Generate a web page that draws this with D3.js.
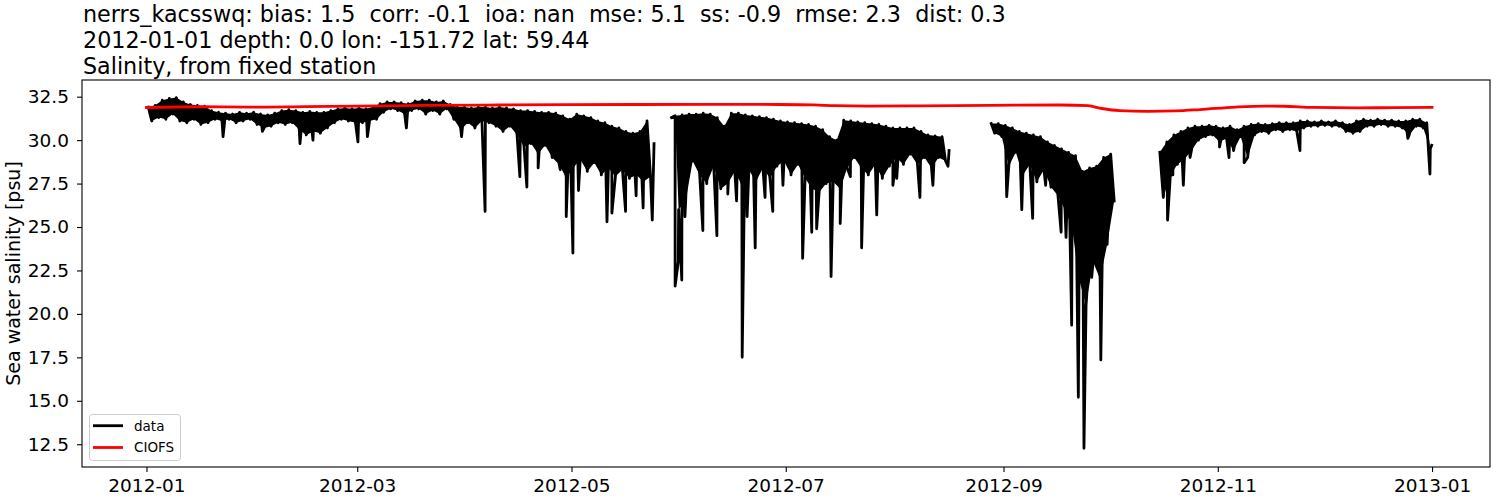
<!DOCTYPE html>
<html><head><meta charset="utf-8">
<script src="https://cdn.jsdelivr.net/npm/d3@7"></script>
<style>body{margin:0;background:#fff;} svg{display:block;font-family:"DejaVu Sans",sans-serif;}</style>
</head><body><svg id="c" width="1500" height="500"></svg>
<script>
// ---------- data ----------
const titleLines = [
  "nerrs_kacsswq: bias: 1.5  corr: -0.1  ioa: nan  mse: 5.1  ss: -0.9  rmse: 2.3  dist: 0.3",
  "2012-01-01 depth: 0.0 lon: -151.72 lat: 59.44",
  "Salinity, from fixed station"
];
const yLabel = "Sea water salinity [psu]";
const yTickValues = [12.5, 15.0, 17.5, 20.0, 22.5, 25.0, 27.5, 30.0, 32.5];
const xTickLabels = ["2012-01", "2012-03", "2012-05", "2012-07", "2012-09", "2012-11", "2013-01"];
const seriesNames = ["data", "CIOFS"];
const startDate = "2012-01-01";

// observed salinity: upper / lower envelope per 2-day bin (null = no data)
const obsHigh = [
  31.9, 32.0, 32.3, 32.4, 32.45, 32.2, 32.05, 32.0, 31.95, 31.7,
  31.6, 31.55, 31.5, 31.6, 31.55, 31.6, 31.5, 31.45, 31.55, 31.7,
  31.75, 31.7, 31.6, 31.65, 31.6, 31.6, 31.7, 31.8, 31.85, 31.8,
  31.85, 31.8, 31.9, 32.1, 32.2, 32.2, 32.15, 32.1, 32.25, 32.3,
  32.3, 32.2, 32.25, 32.05, 31.9, 31.9, 31.85, 31.9, 31.9, 31.85,
  31.9, 31.85, 31.8, 31.7, 31.7, 31.65, 31.6, 31.6, 31.55, 31.4,
  31.2, 31.5, 31.4, 31.3, 31.1, 31.0, 30.8, 30.7, 30.5, 30.4,
  30.5, 31.1, 29.8, null, null, 31.4, 31.45, 31.5, 31.5, 31.55,
  31.5, 31.3, 30.8, 31.55, 31.55, 31.45, 31.4, 31.35, 31.3, 31.2,
  31.1, 31.05, 31.0, 30.95, 30.9, 30.8, 30.6, 30.2, 30.0, 31.15,
  31.1, 31.05, 31.0, 30.95, 30.9, 30.8, 30.7, 30.7, 30.7, 30.7,
  30.5, 30.3, 30.25, 30.2, 29.4, null, null, null, null, null,
  30.95, 30.95, 30.85, 30.7, 30.5, 30.4, 30.3, 30.2, 29.9, 29.7,
  29.5, 29.3, 29.1, 28.2, 28.4, 28.5, 29.0, 29.2, null, null,
  null, null, null, null, 29.3, 29.9, 30.3, 30.5, 30.7, 30.8,
  30.8, 30.85, 30.8, 30.7, 30.8, 30.6, 30.8, 30.9, 30.95, 30.9,
  30.95, 31.0, 31.0, 31.0, 31.1, 31.1, 31.05, 31.1, 31.05, 31.1,
  31.0, 30.9, 31.1, 31.2, 31.15, 31.2, 31.15, 31.15, 31.1, 31.1,
  31.2, 31.2, 31.0
];
const obsLow = [
  31.1, 31.3, 31.2, 31.5, 31.1, 31.0, 31.2, 30.9, 31.0, 31.2,
  31.1, 31.2, 31.0, 31.1, 31.2, 30.9, 30.7, 30.8, 31.0, 30.9,
  31.0, 30.6, 30.3, 30.5, 30.4, 30.7, 31.0, 31.2, 31.1, 31.0,
  31.0, 31.1, 31.2, 31.6, 31.8, 31.7, 31.5, 31.7, 31.8, 31.5,
  31.7, 31.5, 31.8, 31.2, 30.6, 31.0, 30.7, 31.1, 31.0, 30.8,
  30.5, 30.8, 30.3, 29.6, 29.8, 29.2, 29.7, 29.0, 28.6, 27.8,
  28.4, 28.9, 28.2, 28.7, 28.0, 28.4, 27.9, 28.3, 27.8, 28.0,
  27.6, 27.9, null, null, 31.3, 26.0, 26.5, 28.8, 28.0, 27.5,
  28.5, 27.2, 27.5, 28.2, 27.4, 28.3, 27.6, 28.4, 27.8, 28.5,
  28.8, 28.0, 28.6, 27.8, 27.2, 27.0, 27.5, 27.6, 27.2, 28.4,
  29.0, 28.4, 28.0, 28.6, 27.8, 28.5, 29.0, 28.6, 29.2, 28.6,
  29.0, 28.4, 29.0, 28.8, null, null, null, null, null, null,
  30.4, 30.2, 28.5, 29.3, 28.0, 28.6, 27.6, 28.3, 27.3, 26.8,
  26.0, 25.0, 22.0, 20.5, 23.0, 22.0, 24.0, 26.5, null, null,
  null, null, null, null, 26.7, 28.0, 28.6, 28.9, 29.4, 30.0,
  30.2, 30.3, 29.9, 30.1, 29.4, 30.2, 29.0, 30.3, 30.5, 30.4,
  30.6, 30.5, 30.6, 30.5, 30.7, 30.8, 30.8, 30.85, 30.8, 30.8,
  30.5, 30.4, 30.5, 30.8, 30.8, 30.9, 30.8, 30.8, 30.7, 30.3,
  30.8, 30.7, 29.5
];
// individual low-salinity spikes (day of year, value)
const spikeDays = [21.8, 33.0, 43.7, 47.4, 60.2, 62.9, 74.0, 89.7, 96.4, 106.3, 108.3, 111.5, 117.8, 119.5, 121.4, 123.0,
  131.1, 132.5, 136.4, 139.4, 141.4, 144.0, 150.5, 151.4, 152.4, 153.3, 158.4, 162.4, 165.5, 168.0, 169.6, 171.0,
  173.3, 176.1, 178.3, 181.2, 186.8, 189.4, 190.8, 194.9, 197.5, 200.4, 203.6, 207.9, 212.5, 213.6, 220.2, 223.9,
  228.2, 244.9, 249.2, 252.3, 256.0, 260.4, 261.8, 263.4, 265.3, 266.9, 267.7, 269.1, 271.7, 272.9, 290.7, 292.2,
  295.2, 297.1, 305.5, 308.2, 312.5, 328.4, 359.1, 365.4, 365.9];
const spikeVals = [30.2, 30.5, 29.8, 30.0, 29.9, 30.2, 30.7, 30.2, 25.9, 27.9, 27.3, 28.4, 28.3, 25.6, 23.5, 27.1,
  25.3, 25.8, 25.9, 26.8, 26.1, 25.4, 21.6, 23.0, 21.95, 25.6, 24.8, 24.5, 26.9, 26.5, 17.5, 25.6,
  23.8, 26.7, 25.9, 27.4, 23.2, 24.7, 24.9, 22.15, 25.2, 27.9, 23.8, 25.7, 27.4, 27.8, 26.7, 27.4,
  28.5, 26.75, 26.0, 25.5, 27.4, 24.7, 24.4, 19.35, 15.2, 12.27, 21.1, 22.1, 17.35, 25.5, 25.4, 28.0,
  27.4, 29.0, 29.6, 29.0, 28.7, 29.4, 30.1, 28.05, 29.7];

// model (CIOFS) salinity
const modelDays = [0, 15, 30, 45, 60, 80, 100, 120, 140, 160, 180, 190, 196, 205, 220, 240, 260, 268, 272, 277,
  285, 293, 300, 310, 318, 324, 332, 345, 355, 366];
const modelVals = [31.88, 31.92, 31.9, 31.93, 31.96, 32.0, 32.02, 32.04, 32.05, 32.06, 32.05, 32.03, 31.98, 31.96, 31.97, 32.0, 32.02, 31.98, 31.82, 31.7,
  31.66, 31.68, 31.76, 31.9, 31.96, 31.95, 31.88, 31.86, 31.87, 31.88];

// ---------- build ----------
const svg = d3.select("#c");
const M = {left: 82, right: 1490, top: 80, bottom: 467};
const t0 = d3.utcParse("%Y-%m-%d")(startDate);
const dayToDate = d => new Date(t0.getTime() + d * 864e5);

const x = d3.scaleUtc().domain([dayToDate(-18.36), dayToDate(382.5)]).range([M.left, M.right]);
const y = d3.scaleLinear().domain([11.19, 33.46]).range([M.bottom, M.top]);

// observations as time-ordered points
let obs = [];
obsHigh.forEach((v, i) => obs.push({d: 2 * i + 0.5, v: v}));
obsLow.forEach((v, i) => obs.push({d: 2 * i + 1.5, v: v}));
spikeDays.forEach((d, i) => obs.push({d: d, v: spikeVals[i]}));
obs.sort((a, b) => a.d - b.d);
const model = modelDays.map((d, i) => ({d: d, v: modelVals[i]}));

// dense-oscillation band: polygons between upper and lower envelopes, one per data run
const bands = [];
let run = [];
obsHigh.forEach((h, i) => {
  const l = obsLow[i];
  if (h !== null && l !== null) run.push(i);
  else { if (run.length) bands.push(run); run = []; }
});
if (run.length) bands.push(run);
const bandPolys = bands.map(r => r.map(i => ({d: 2 * i + 0.5, v: obsHigh[i]}))
  .concat(r.slice().reverse().map(i => ({d: 2 * i + 1.5, v: obsLow[i]}))));

svg.append("defs").append("clipPath").attr("id", "clip")
  .append("rect").attr("x", M.left).attr("y", M.top).attr("width", M.right - M.left).attr("height", M.bottom - M.top);

const lineGen = d3.line().defined(p => p.v !== null).x(p => x(dayToDate(p.d))).y(p => y(p.v));
const g = svg.append("g").attr("clip-path", "url(#clip)");
g.selectAll("path.band").data(bandPolys).join("path").attr("class", "band")
  .attr("d", p => lineGen(p) + "Z").attr("fill", "#000").attr("stroke", "none");
g.append("path").datum(obs).attr("d", lineGen).attr("fill", "none").attr("stroke", "#000")
  .attr("stroke-width", 2.8).attr("stroke-linejoin", "round").attr("stroke-linecap", "square");
g.append("path").datum(model).attr("d", d3.line().x(p => x(dayToDate(p.d))).y(p => y(p.v)).curve(d3.curveMonotoneX))
  .attr("fill", "none").attr("stroke", "#ff0000").attr("stroke-width", 2.8).attr("stroke-linecap", "square");

// frame
svg.append("rect").attr("x", M.left).attr("y", M.top).attr("width", M.right - M.left).attr("height", M.bottom - M.top)
  .attr("fill", "none").attr("stroke", "#000").attr("stroke-width", 1.1);

// axes
const tickFont = 18.5;
const xAxis = d3.axisBottom(x).tickValues(xTickLabels.map(s => d3.utcParse("%Y-%m")(s)))
  .tickFormat(d3.utcFormat("%Y-%m")).tickSize(5).tickPadding(7);
const xg = svg.append("g").attr("transform", `translate(0,${M.bottom})`).call(xAxis);
xg.select(".domain").remove();
xg.selectAll("text").attr("font-size", tickFont).attr("font-family", "DejaVu Sans").attr("fill", "#000");
xg.selectAll("line").attr("stroke", "#000").attr("stroke-width", 1.1);

const yAxis = d3.axisLeft(y).tickValues(yTickValues).tickFormat(d3.format(".1f")).tickSize(5).tickPadding(8);
const yg = svg.append("g").attr("transform", `translate(${M.left},0)`).call(yAxis);
yg.select(".domain").remove();
yg.selectAll("text").attr("font-size", tickFont).attr("font-family", "DejaVu Sans").attr("fill", "#000");
yg.selectAll("line").attr("stroke", "#000").attr("stroke-width", 1.1);

// y label
svg.append("text").attr("transform", `translate(20,${(M.top + M.bottom) / 2}) rotate(-90)`)
  .attr("text-anchor", "middle").attr("font-size", 19).attr("fill", "#000").text(yLabel);

// titles
titleLines.forEach((s, i) => {
  svg.append("text").attr("x", 83).attr("y", 22 + i * 26).attr("font-size", 22.25).attr("fill", "#000")
    .attr("xml:space", "preserve").style("white-space", "pre").text(s);
});

// legend
const lg = svg.append("g");
lg.append("rect").attr("x", 89.5).attr("y", 414.5).attr("width", 91).attr("height", 46).attr("rx", 3)
  .attr("fill", "#fff").attr("fill-opacity", 0.8).attr("stroke", "#ccc").attr("stroke-width", 1);
const legendColors = ["#000", "#ff0000"];
seriesNames.forEach((n, i) => {
  const yy = 425.7 + i * 21.8;
  lg.append("line").attr("x1", 93).attr("x2", 123).attr("y1", yy).attr("y2", yy)
    .attr("stroke", legendColors[i]).attr("stroke-width", 2.8);
  lg.append("text").attr("x", 134).attr("y", yy + 4.8).attr("font-size", 13.5).attr("fill", "#000").text(n);
});
</script></body></html>
